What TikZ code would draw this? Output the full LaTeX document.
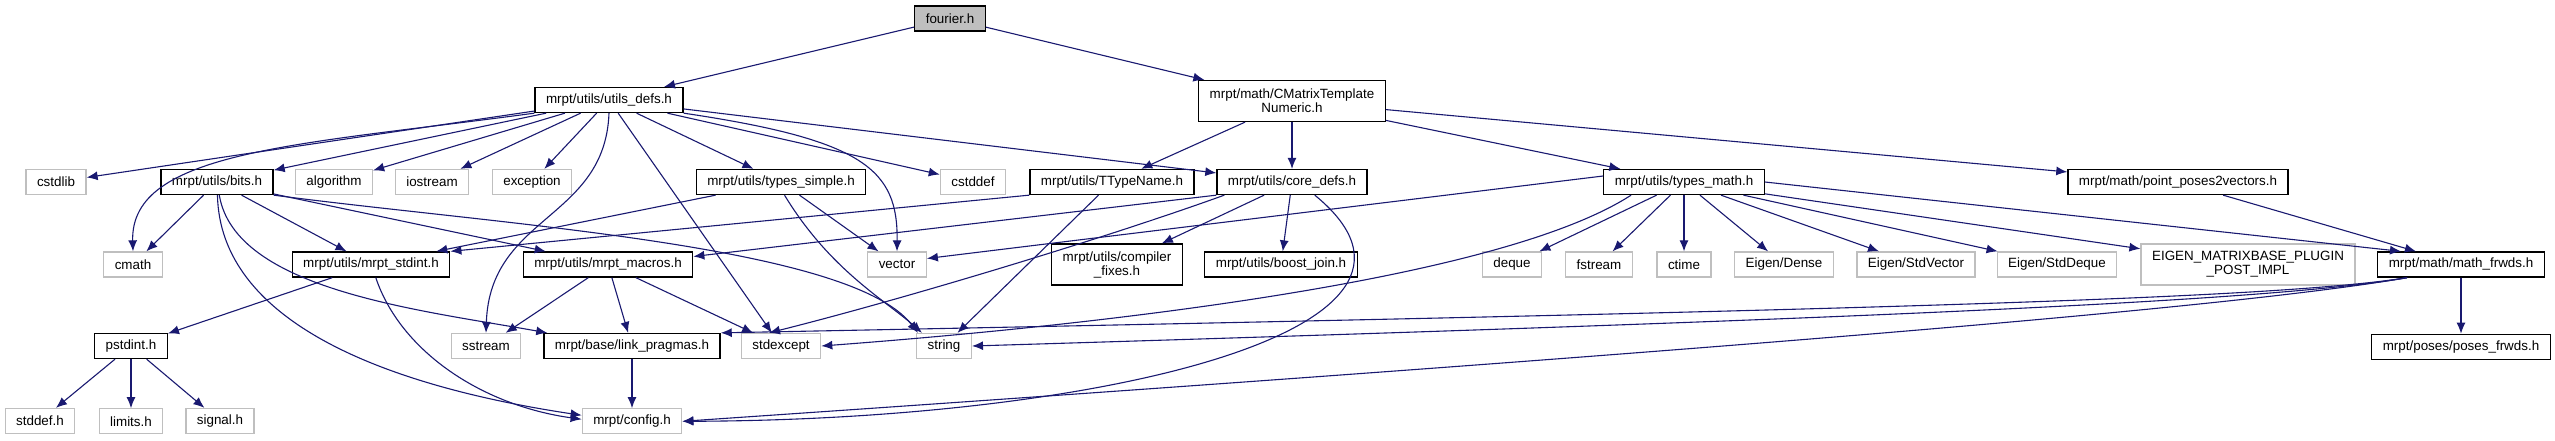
\documentclass[tikz,border=0pt]{standalone}
\usepackage{fontspec}
\setmainfont{Liberation Sans}
\usetikzlibrary{arrows.meta, positioning}
\definecolor{dxedge}{HTML}{191970}
\definecolor{dxgray}{HTML}{BFBFBF}

\begin{document}
\begin{tikzpicture}[
  x=0.5pt, y=-0.5pt,
  box/.style={rectangle, align=center, font=\fontsize{6.7}{7}\selectfont,
              minimum height=12.5pt, inner xsep=5.5pt, inner ysep=1pt, line width=0.65pt},
  hdr/.style={box, draw=black},
  sys/.style={box, draw=dxgray},
  cur/.style={hdr, fill=dxgray},
  two/.style={minimum height=20.5pt},
  a/.style={-{Latex[length=5.5pt,width=4.5pt]}, dxedge, line width=0.55pt}]
  \useasboundingbox (0,0) rectangle (2555,440);
  % rows of the include graph
  \node[cur] (fourier) at (950,18.5) {fourier.h};
  \node[hdr] (udefs) at (609,100) {mrpt/utils/utils\_defs.h};
  \node[hdr, two] (cmtn) at (1292,101) {mrpt/math/CMatrixTemplate\\Numeric.h};
  \node[sys] (cstdlib) at (56,182) {cstdlib};
  \node[hdr] (bits) at (217,182) {mrpt/utils/bits.h};
  \node[sys] (algorithm) at (334,182) {algorithm};
  \node[sys] (iostream) at (432,182) {iostream};
  \node[sys] (exception) at (532,182) {exception};
  \node[hdr] (tsimple) at (781,182) {mrpt/utils/types\_simple.h};
  \node[sys] (cstddef) at (973,182) {cstddef};
  \node[hdr] (ttname) at (1112,182) {mrpt/utils/TTypeName.h};
  \node[hdr] (cdefs) at (1292,182) {mrpt/utils/core\_defs.h};
  \node[hdr] (tmath) at (1684,182) {mrpt/utils/types\_math.h};
  \node[hdr] (pp2v) at (2178,182) {mrpt/math/point\_poses2vectors.h};
  \node[sys] (cmath) at (133,264.5) {cmath};
  \node[hdr] (stdint) at (371,264.5) {mrpt/utils/mrpt\_stdint.h};
  \node[hdr] (macros) at (608,264.5) {mrpt/utils/mrpt\_macros.h};
  \node[sys] (vector) at (897,264.5) {vector};
  \node[hdr, two] (cfixes) at (1117,264.5) {mrpt/utils/compiler\\\_fixes.h};
  \node[hdr] (bjoin) at (1281,264.5) {mrpt/utils/boost\_join.h};
  \node[sys] (deque) at (1512,264.5) {deque};
  \node[sys] (fstream) at (1599,264.5) {fstream};
  \node[sys] (ctime) at (1684,264.5) {ctime};
  \node[sys] (edense) at (1784,264.5) {Eigen/Dense};
  \node[sys] (estdvec) at (1916,264.5) {Eigen/StdVector};
  \node[sys] (estddeq) at (2057,264.5) {Eigen/StdDeque};
  \node[sys, two] (eplugin) at (2248,264.5) {EIGEN\_MATRIXBASE\_PLUGIN\\\_POST\_IMPL};
  \node[hdr] (mfrwds) at (2461,264.5) {mrpt/math/math\_frwds.h};
  \node[hdr] (pstdint) at (131,346) {pstdint.h};
  \node[sys] (sstream) at (486,346) {sstream};
  \node[hdr] (lpragmas) at (632,346) {mrpt/base/link\_pragmas.h};
  \node[sys] (stdexcept) at (781,346) {stdexcept};
  \node[sys] (string) at (944,346) {string};
  \node[hdr, below=28pt of mfrwds] (pfrwds) {mrpt/poses/poses\_frwds.h};
  \node[sys] (stddef) at (40,421) {stddef.h};
  \node[sys, below=24.5pt of pstdint] (limits) {limits.h};
  \node[sys] (signal) at (220,421) {signal.h};
  \node[sys, below=24.5pt of lpragmas] (config) {mrpt/config.h};
  % includes
  \draw[a] (fourier) -- (udefs);
  \draw[a] (fourier) -- (cmtn);
  \draw[a] (udefs) -- (cstdlib);
  \draw[a] (udefs.190) .. controls (300,145) and (130,150) .. (cmath.north);
  \draw[a] (udefs) -- (bits);
  \draw[a] (udefs) -- (algorithm);
  \draw[a] (udefs) -- (iostream);
  \draw[a] (udefs) -- (exception);
  \draw[a] (udefs.south) .. controls (605,220) and (490,215) .. (sstream.north);
  \draw[a] (udefs) -- (stdexcept);
  \draw[a] (udefs) -- (tsimple);
  \draw[a] (udefs.south east) .. controls (865,140) and (898,170) .. (vector.north);
  \draw[a] (udefs) -- (cstddef);
  \draw[a] (udefs) -- (cdefs);
  \draw[a] (cmtn) -- (ttname);
  \draw[a] (cmtn) -- (cdefs);
  \draw[a] (cmtn) -- (tmath);
  \draw[a] (cmtn) -- (pp2v);
  \draw[a] (bits) -- (cmath);
  \draw[a] (bits) -- (stdint);
  \draw[a] (bits) -- (macros);
  \draw[a] (bits.-80) .. controls (235,290) and (420,310) .. ([xshift=2pt]lpragmas.north west);
  \draw[a] (bits.-88) .. controls (220,320) and (380,385) .. ([yshift=3pt]config.west);
  \draw[a] (bits.south east) .. controls (500,225) and (850,245) .. ([xshift=1pt]string.north west);
  \draw[a] (stdint) -- (pstdint);
  \draw[a] (stdint.-70) .. controls (400,350) and (480,405) .. ([yshift=1pt]config.west);
  \draw[a] (pstdint) -- (stddef);
  \draw[a] (pstdint) -- (limits);
  \draw[a] (pstdint) -- (signal);
  \draw[a] (macros) -- (sstream);
  \draw[a] (macros) -- (lpragmas);
  \draw[a] (macros) -- (stdexcept);
  \draw[a] (lpragmas) -- (config);
  \draw[a] (tsimple) -- (stdint);
  \draw[a] (tsimple) -- (vector);
  \draw[a] (tsimple.-75) .. controls (830,270) and (885,300) .. ([xshift=3pt]string.north west);
  \draw[a] (ttname.south west) -- (stdint.north east);
  \draw[a] (ttname) -- (string);
  \draw[a] (cdefs.south west) -- ([yshift=4pt]macros.east);
  \draw[a] ([xshift=4pt]cdefs.south west) .. controls (1100,240) and (900,300) .. ([xshift=-6pt]stdexcept.north);
  \draw[a] (cdefs) -- (cfixes);
  \draw[a] (cdefs) -- (bjoin);
  \draw[a] (cdefs.-30) .. controls (1480,330) and (1100,420) .. (config.east);
  \draw[a] ([yshift=3pt]tmath.west) -- ([yshift=3pt]vector.east);
  \draw[a] ([xshift=14pt]tmath.south west) .. controls (1500,280) and (1100,325) .. (stdexcept.east);
  \draw[a] (tmath) -- (deque);
  \draw[a] (tmath) -- (fstream);
  \draw[a] (tmath) -- (ctime);
  \draw[a] (tmath) -- (edense);
  \draw[a] (tmath) -- (estdvec);
  \draw[a] (tmath) -- (estddeq);
  \draw[a] (tmath) -- (eplugin);
  \draw[a] (tmath.east) -- ([xshift=-30pt]mfrwds.north);
  \draw[a] (pp2v) -- (mfrwds);
  \draw[a] (mfrwds) -- (pfrwds);
  \draw[a] ([xshift=15pt]mfrwds.south west) .. controls (2280,298) and (1900,310) .. (lpragmas.north east);
  \draw[a] ([xshift=15pt]mfrwds.south west) .. controls (2280,300) and (1900,318) .. (string.east);
  \draw[a] ([xshift=15pt]mfrwds.south west) .. controls (2250,305) and (1800,345) .. (config.east);
\end{tikzpicture}
\end{document}
